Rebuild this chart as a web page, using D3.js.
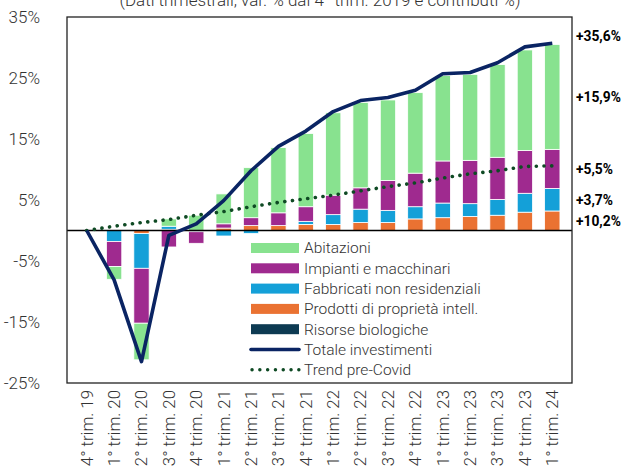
<!DOCTYPE html>
<html>
<head>
<meta charset="utf-8">
<script src="https://cdn.jsdelivr.net/npm/d3@7"></script>
<style>
  body { margin: 0; background: #fff; }
  text { font-family: Roboto, "Liberation Sans", sans-serif; fill: #333; }
</style>
</head>
<body>
<div id="chart"></div>
<script>
// Data
var quarters = ["4° trim. 19", "1° trim. 20", "2° trim. 20", "3° trim. 20", "4° trim. 20",
  "1° trim. 21", "2° trim. 21", "3° trim. 21", "4° trim. 21", "1° trim. 22", "2° trim. 22",
  "3° trim. 22", "4° trim. 22", "1° trim. 23", "2° trim. 23", "3° trim. 23", "4° trim. 23", "1° trim. 24"];

var prodotti    = [0, 0, -0.5, 0.2, 0, 0.4, 0.8, 0.8, 1.0, 1.0, 1.3, 1.3, 1.9, 2.1, 2.3, 2.5, 3.0, 3.2];
var fabbricati  = [0, -1.8, -5.7, 0.5, -0.2, -0.9, -0.5, 0, 0.5, 1.6, 2.2, 2.0, 2.0, 2.4, 2.1, 2.6, 3.1, 3.7];
var impianti    = [0, -4.1, -9.0, -2.7, -1.9, 0.7, 1.3, 2.1, 2.4, 3.2, 3.5, 4.9, 5.5, 6.9, 7.1, 6.9, 7.0, 6.4];
var abitazioni  = [0, -2.1, -6.0, 1.2, 2.5, 4.9, 8.2, 10.7, 12.0, 13.5, 14.0, 13.2, 13.2, 14.0, 14.1, 15.2, 16.5, 17.2];
var risorse     = [0, 0, 0, 0, 0, 0, 0, 0, 0, 0, 0, 0, 0, 0, 0, 0, 0, 0];
var totale      = [0, -8.1, -21.5, -0.8, 1.1, 4.9, 9.8, 13.8, 16.3, 19.5, 21.3, 21.8, 23.0, 25.7, 25.9, 27.5, 30.1, 30.7];
var trend       = [0, 0.7, 1.3, 1.8, 2.5, 3.1, 3.9, 4.6, 5.2, 5.8, 6.5, 7.2, 7.8, 8.6, 9.3, 9.8, 10.5, 10.6];

var yTicks = [35, 25, 15, 5, -5, -15, -25];
var endLabels = ["+35,6%", "+15,9%", "+5,5%", "+3,7%", "+10,2%"];

var seriesKeys = ["prodotti", "fabbricati", "impianti", "abitazioni", "risorse"];
var colors = {
  prodotti: "#ea7232",
  fabbricati: "#14a0d8",
  impianti: "#9f2a8f",
  abitazioni: "#88e28f",
  risorse: "#0d3a52"
};

//SVG area dimensions
var svgWidth = 624;
var svgHeight = 475;
var plot = { left: 67, right: 572, top: 17, bottom: 383 };

var svg = d3.select("#chart")
  .append("svg")
  .attr("width", svgWidth)
  .attr("height", svgHeight);

// table for the stack
var table = quarters.map(function(q, i) {
  return {
    quarter: q,
    prodotti: prodotti[i],
    fabbricati: fabbricati[i],
    impianti: impianti[i],
    abitazioni: abitazioni[i],
    risorse: risorse[i]
  };
});

//Scales
var xScale = d3.scaleBand()
  .domain(quarters)
  .range([plot.left, plot.right])
  .padding(0.44);

var yScale = d3.scaleLinear()
  .domain([-25, 35])
  .range([plot.bottom, plot.top]);

var xMid = function(q) { return xScale(q) + xScale.bandwidth() / 2; };

// Title (cut off at the top, as in the original)
svg.append("text")
  .attr("x", 320)
  .attr("y", 6)
  .attr("text-anchor", "middle")
  .style("font-size", "17px")
  .style("font-weight", 300)
  .text("(Dati trimestrali, var. % dal 4° trim. 2019 e contributi %)");

// Stacked bars
var stack = d3.stack()
  .keys(seriesKeys)
  .offset(d3.stackOffsetDiverging);

var layers = stack(table);

svg.append("g").selectAll("g")
  .data(layers)
  .enter()
  .append("g")
  .attr("fill", function(d) { return colors[d.key]; })
  .selectAll("rect")
  .data(function(d) { return d; })
  .enter()
  .append("rect")
  .attr("x", function(d) { return xScale(d.data.quarter); })
  .attr("width", xScale.bandwidth())
  .attr("y", function(d) { return yScale(Math.max(d[0], d[1])); })
  .attr("height", function(d) { return Math.abs(yScale(d[0]) - yScale(d[1])); })
  .attr("stroke", "#fff")
  .attr("stroke-width", 0.8);

// Zero line
svg.append("line")
  .attr("x1", plot.left)
  .attr("x2", plot.right)
  .attr("y1", yScale(0))
  .attr("y2", yScale(0))
  .attr("stroke", "#000")
  .attr("stroke-width", 1.3);

// Trend pre-Covid (dotted)
var line = d3.line()
  .x(function(d, i) { return xMid(quarters[i]); })
  .y(function(d) { return yScale(d); });

svg.append("path")
  .datum(trend)
  .attr("d", line)
  .attr("fill", "none")
  .attr("stroke", "#0f4a24")
  .attr("stroke-width", 3.6)
  .attr("stroke-linecap", "round")
  .attr("stroke-dasharray", "0.1 7.6");

// Totale investimenti
svg.append("path")
  .datum(totale)
  .attr("d", line)
  .attr("fill", "none")
  .attr("stroke", "#0a2463")
  .attr("stroke-width", 3.6)
  .attr("stroke-linejoin", "round");

// Frame
svg.append("rect")
  .attr("x", plot.left)
  .attr("y", plot.top)
  .attr("width", plot.right - plot.left)
  .attr("height", plot.bottom - plot.top)
  .attr("fill", "none")
  .attr("stroke", "#222")
  .attr("stroke-width", 1.3);

// Y axis labels
var leftAxis = d3.axisLeft(yScale)
  .tickValues(yTicks)
  .tickSize(0)
  .tickPadding(27)
  .tickFormat(function(d) { return d + "%"; });

var yAxisG = svg.append("g")
  .attr("transform", "translate(" + plot.left + ",0)")
  .call(leftAxis);
yAxisG.select(".domain").remove();
yAxisG.selectAll("text")
  .style("font-size", "17px")
  .style("font-weight", 300)
  .style("font-family", "Roboto, sans-serif")
  .attr("fill", "#333");

// X axis labels (rotated)
var bottomAxis = d3.axisBottom(xScale)
  .tickSize(0)
  .tickPadding(0);

var xAxisG = svg.append("g")
  .attr("transform", "translate(0," + plot.bottom + ")")
  .call(bottomAxis);
xAxisG.select(".domain").remove();
xAxisG.selectAll("text")
  .attr("transform", "rotate(-90)")
  .attr("x", -7)
  .attr("y", 0)
  .attr("dy", "0.35em")
  .attr("text-anchor", "end")
  .style("font-size", "16.8px")
  .style("font-weight", 300)
  .style("font-family", "Roboto, sans-serif")
  .attr("fill", "#333");

// Labels on the right, next to the last quarter
var last = quarters.length - 1;
var lastLayer = function(key) {
  var s = layers.find(function(l) { return l.key === key; })[last];
  return yScale((s[0] + s[1]) / 2);
};
var labelY = [
  yScale(totale[last]) - 7,
  lastLayer("abitazioni"),
  lastLayer("impianti"),
  lastLayer("fabbricati"),
  lastLayer("prodotti")
];

svg.append("g").selectAll("text")
  .data(endLabels)
  .enter()
  .append("text")
  .attr("x", plot.right + 4)
  .attr("y", function(d, i) { return labelY[i]; })
  .attr("dy", "0.35em")
  .style("font-size", "13.8px")
  .style("font-weight", 700)
  .style("fill", "#000")
  .text(function(d) { return d; });

// Legend
var legendItems = [
  { name: "Abitazioni", key: "abitazioni", type: "rect" },
  { name: "Impianti e macchinari", key: "impianti", type: "rect" },
  { name: "Fabbricati non residenziali", key: "fabbricati", type: "rect" },
  { name: "Prodotti di proprietà intell.", key: "prodotti", type: "rect" },
  { name: "Risorse biologiche", key: "risorse", type: "rect" },
  { name: "Totale investimenti", type: "line" },
  { name: "Trend pre-Covid", type: "dots" }
];

var legend = svg.append("g")
  .attr("transform", "translate(251, 248)");

var rows = legend.selectAll("g")
  .data(legendItems)
  .enter()
  .append("g")
  .attr("transform", function(d, i) { return "translate(0," + (i * 20.3) + ")"; });

rows.filter(function(d) { return d.type === "rect"; })
  .append("rect")
  .attr("x", 0)
  .attr("y", -5)
  .attr("width", 48)
  .attr("height", 10)
  .attr("fill", function(d) { return colors[d.key]; });

rows.filter(function(d) { return d.type === "line"; })
  .append("line")
  .attr("x1", 0).attr("x2", 48)
  .attr("y1", 0).attr("y2", 0)
  .attr("stroke", "#0a2463")
  .attr("stroke-width", 3.6)
  .attr("stroke-linecap", "round");

rows.filter(function(d) { return d.type === "dots"; })
  .append("line")
  .attr("x1", 1).attr("x2", 48)
  .attr("y1", 0).attr("y2", 0)
  .attr("stroke", "#0f4a24")
  .attr("stroke-width", 3.4)
  .attr("stroke-linecap", "round")
  .attr("stroke-dasharray", "0.1 7.7");

rows.append("text")
  .attr("x", 53)
  .attr("y", 0)
  .attr("dy", "0.35em")
  .style("font-size", "15.5px")
  .style("font-weight", 300)
  .text(function(d) { return d.name; });
</script>
</body>
</html>
